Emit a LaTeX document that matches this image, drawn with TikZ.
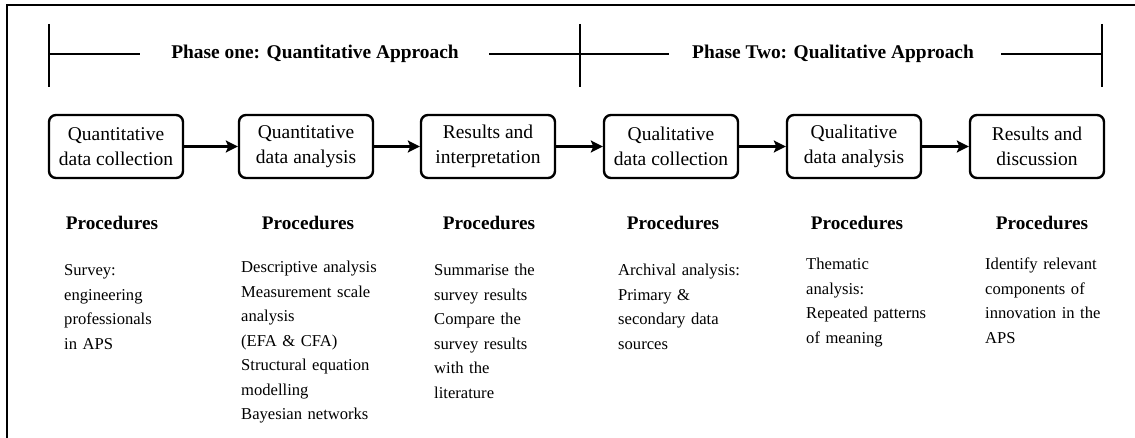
\documentclass[tikz,border=0pt]{standalone}
\usepackage{fontspec}
\setmainfont{Liberation Serif}
\usetikzlibrary{arrows.meta}
\begin{document}
\begin{tikzpicture}[x=1pt,y=-1pt,
  frameline/.style={line width=2.4pt},
  phaseline/.style={line width=2.3pt},
  phasetext/.style={font=\fontsize{19.4}{22}\selectfont\bfseries, inner sep=0pt},
  stagebox/.style={draw, line width=2.4pt, rounded corners=7pt, minimum width=134pt, minimum height=63pt, align=center, inner sep=1pt, font=\fontsize{19.5}{25}\selectfont},
  flow/.style={line width=2.3pt, -{Stealth[length=12pt,width=12pt,inset=2.5pt]}},
  prochead/.style={font=\fontsize{19.2}{22}\selectfont\bfseries, inner sep=0pt},
  procbody/.style={font=\fontsize{16.6}{24.5}\selectfont, align=left, text width=180pt, anchor=base west, inner sep=0pt},
]
\useasboundingbox (0,0) rectangle (1135,438);
% frame
\coordinate (fTL) at (7,5);
\coordinate (fTR) at (1135,5);
\coordinate (fBL) at (7,438);
\draw[frameline] (fBL) -- (fTL) -- (fTR);
% phase bar
\coordinate (t1a) at (49,24); \coordinate (t1b) at (49,87);
\coordinate (t2a) at (580,24); \coordinate (t2b) at (580,87);
\coordinate (t3a) at (1102,24); \coordinate (t3b) at (1102,87);
\coordinate (t1) at (49,54); \coordinate (t2) at (580,54); \coordinate (t3) at (1102,54);
\coordinate (l1e) at (140,54); \coordinate (l2s) at (489,54);
\coordinate (l3e) at (669,54); \coordinate (l4s) at (1001,54);
\draw[phaseline] (t1a) -- (t1b);
\draw[phaseline] (t2a) -- (t2b);
\draw[phaseline] (t3a) -- (t3b);
\node[phasetext] (p1) at (315,54) {Phase one: Quantitative Approach};
\node[phasetext] (p2) at (833,54) {Phase Two: Qualitative Approach};
\draw[phaseline] (t1) -- (l1e);
\draw[phaseline] (l2s) -- (t2);
\draw[phaseline] (t2) -- (l3e);
\draw[phaseline] (l4s) -- (t3);
% stage boxes
\node[stagebox] (b1) at (116,146.5) {Quantitative\\data collection};
\node[stagebox] (b2) at (306,146.5) {Quantitative\\data analysis};
\node[stagebox] (b3) at (488,146.5) {Results and\\interpretation};
\node[stagebox] (b4) at (671,146.5) {Qualitative\\data collection};
\node[stagebox] (b5) at (854,146.5) {Qualitative\\data analysis};
\node[stagebox] (b6) at (1037,146.5) {Results and\\discussion};
\draw[flow] (b1) -- (b2);
\draw[flow] (b2) -- (b3);
\draw[flow] (b3) -- (b4);
\draw[flow] (b4) -- (b5);
\draw[flow] (b5) -- (b6);
% procedures
\node[prochead] (h1) at (112,223) {Procedures};
\node[prochead] (h2) at (308,223) {Procedures};
\node[prochead] (h3) at (489,223) {Procedures};
\node[prochead] (h4) at (673,223) {Procedures};
\node[prochead] (h5) at (857,223) {Procedures};
\node[prochead] (h6) at (1042,223) {Procedures};
\node[procbody] (d1) at (64,276) {Survey:\\engineering\\professionals\\in APS};
\node[procbody] (d2) at (241,273) {Descriptive analysis\\Measurement scale\\analysis\\(EFA \& CFA)\\Structural equation\\modelling\\Bayesian networks};
\node[procbody] (d3) at (434,276) {Summarise the\\survey results\\Compare the\\survey results\\with the\\literature};
\node[procbody] (d4) at (618,276) {Archival analysis:\\Primary \&\\secondary data\\sources};
\node[procbody] (d5) at (806,270) {Thematic\\analysis:\\Repeated patterns\\of meaning};
\node[procbody] (d6) at (985,270) {Identify relevant\\components of\\innovation in the\\APS};
\end{tikzpicture}
\end{document}
